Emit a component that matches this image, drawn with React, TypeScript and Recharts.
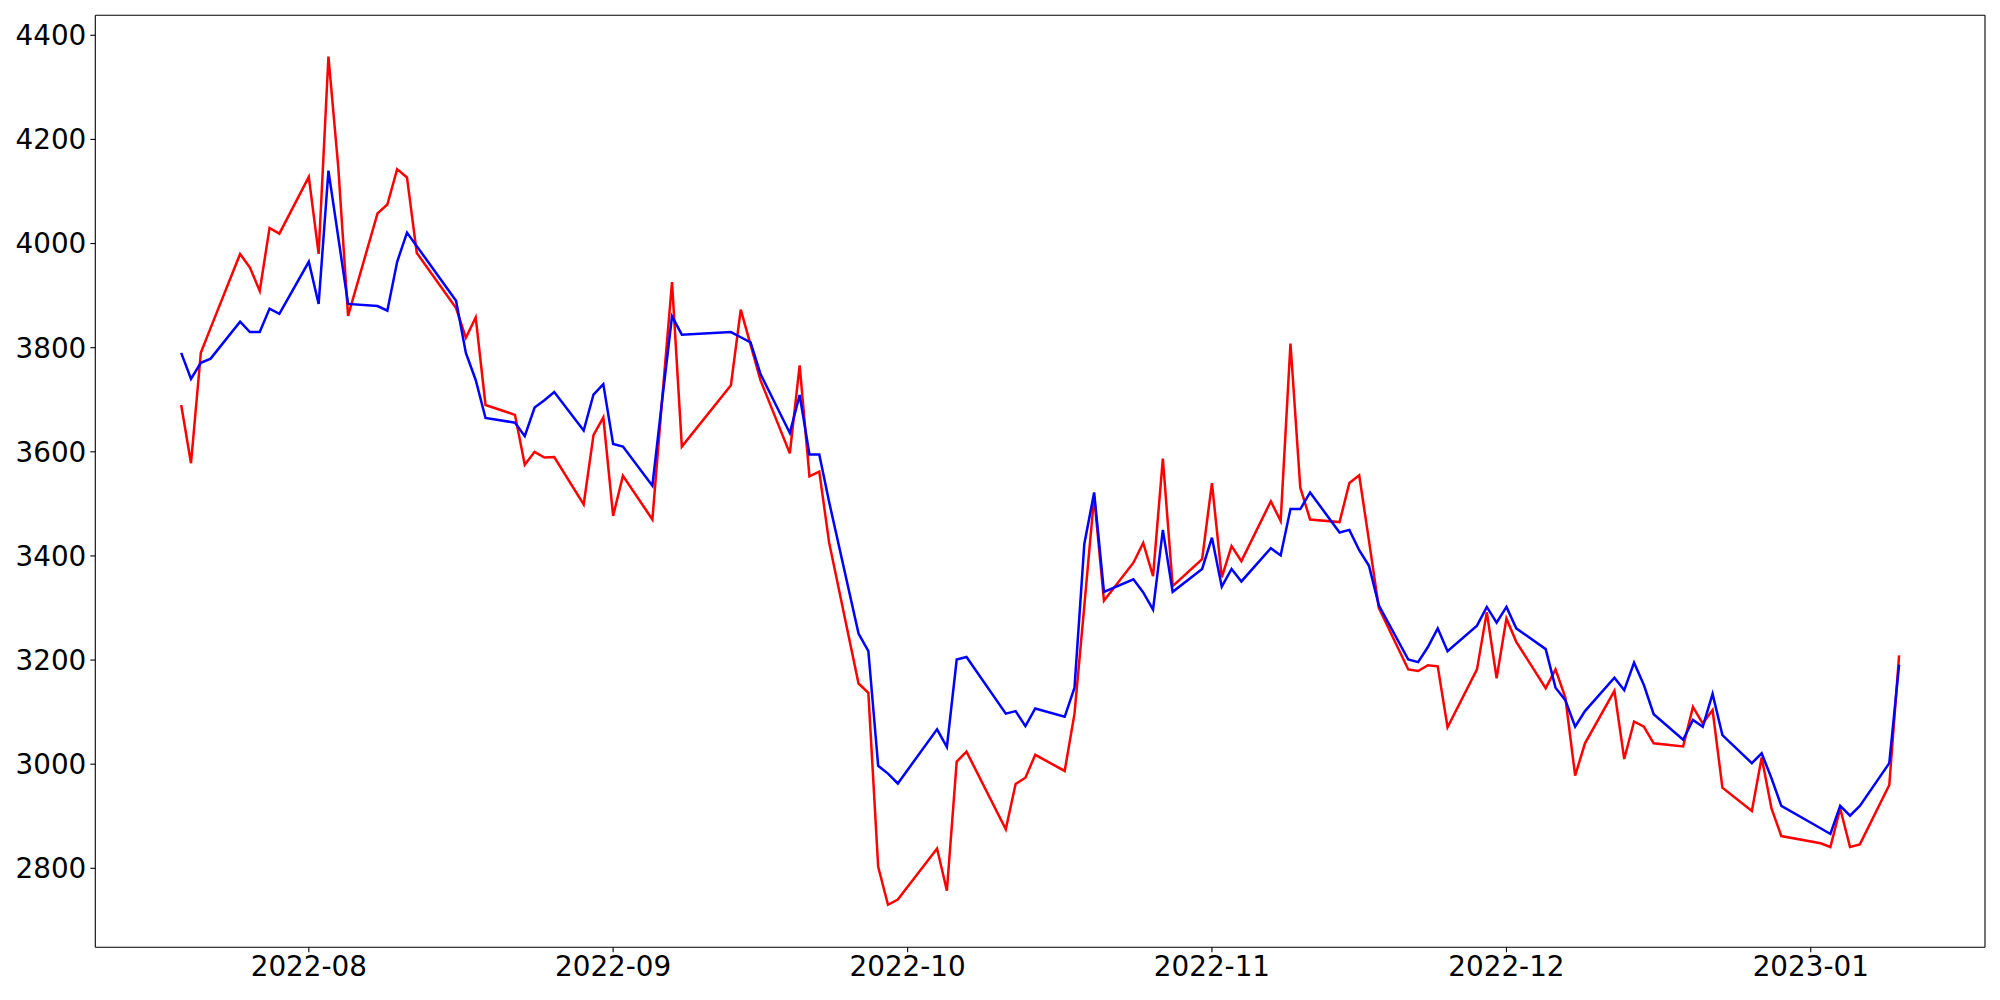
import React from "react";
import { LineChart, Line, XAxis, YAxis, ReferenceLine } from "recharts";

// trading days (Korean calendar)
const DATES = [
  "2022-07-19", "2022-07-20", "2022-07-21", "2022-07-22", "2022-07-25", "2022-07-26", "2022-07-27", "2022-07-28", "2022-07-29",
  "2022-08-01", "2022-08-02", "2022-08-03", "2022-08-04", "2022-08-05", "2022-08-08", "2022-08-09", "2022-08-10", "2022-08-11", "2022-08-12",
  "2022-08-16", "2022-08-17", "2022-08-18", "2022-08-19", "2022-08-22", "2022-08-23", "2022-08-24", "2022-08-25", "2022-08-26",
  "2022-08-29", "2022-08-30", "2022-08-31", "2022-09-01", "2022-09-02", "2022-09-05", "2022-09-06", "2022-09-07", "2022-09-08",
  "2022-09-13", "2022-09-14", "2022-09-15", "2022-09-16", "2022-09-19", "2022-09-20", "2022-09-21", "2022-09-22", "2022-09-23",
  "2022-09-26", "2022-09-27", "2022-09-28", "2022-09-29", "2022-09-30", "2022-10-04", "2022-10-05", "2022-10-06", "2022-10-07",
  "2022-10-11", "2022-10-12", "2022-10-13", "2022-10-14", "2022-10-17", "2022-10-18", "2022-10-19", "2022-10-20", "2022-10-21",
  "2022-10-24", "2022-10-25", "2022-10-26", "2022-10-27", "2022-10-28", "2022-10-31", "2022-11-01", "2022-11-02", "2022-11-03",
  "2022-11-04", "2022-11-07", "2022-11-08", "2022-11-09", "2022-11-10", "2022-11-11", "2022-11-14", "2022-11-15", "2022-11-16",
  "2022-11-17", "2022-11-18", "2022-11-21", "2022-11-22", "2022-11-23", "2022-11-24", "2022-11-25", "2022-11-28", "2022-11-29",
  "2022-11-30", "2022-12-01", "2022-12-02", "2022-12-05", "2022-12-06", "2022-12-07", "2022-12-08", "2022-12-09", "2022-12-12",
  "2022-12-13", "2022-12-14", "2022-12-15", "2022-12-16", "2022-12-19", "2022-12-20", "2022-12-21", "2022-12-22", "2022-12-23",
  "2022-12-26", "2022-12-27", "2022-12-28", "2022-12-29", "2023-01-02", "2023-01-03", "2023-01-04", "2023-01-05", "2023-01-06",
  "2023-01-09", "2023-01-10",
];

const RED = [
  3690, 3578, 3790, 3838, 3980, 3954, 3909, 4030, 4019,
  4128, 3980, 4359, 4147, 3861, 4058, 4075, 4143, 4127, 3982,
  3876, 3819, 3858, 3690, 3671, 3575, 3600, 3589, 3590,
  3499, 3632, 3666, 3477, 3554, 3470, 3702, 3926, 3610,
  3728, 3873, 3806, 3738, 3597, 3766, 3553, 3562, 3426,
  3155, 3137, 2803, 2730, 2740, 2838, 2757, 3005, 3024,
  2875, 2962, 2974, 3018, 2987, 3097, 3304, 3514, 3314,
  3387, 3425, 3361, 3587, 3342, 3394, 3540, 3359, 3419,
  3390, 3505, 3467, 3808, 3531, 3470, 3465, 3540, 3555,
  3429, 3300, 3182, 3179, 3190, 3188, 3071, 3182, 3292,
  3165, 3280, 3235, 3146, 3182, 3128, 2978, 3040, 3141,
  3010, 3082, 3072, 3040, 3034, 3110, 3078, 3104, 2955,
  2910, 3013, 2915, 2862, 2848, 2841, 2915, 2841, 2846,
  2960, 3209,
];

const BLUE = [
  3790, 3740, 3771, 3779, 3850, 3830, 3830, 3875, 3865,
  3965, 3884, 4140, 4012, 3884, 3880, 3871, 3965, 4021, 3995,
  3890, 3790, 3738, 3665, 3656, 3630, 3685, 3699, 3715,
  3641, 3710, 3730, 3615, 3610, 3535, 3700, 3860, 3825,
  3830, 3820, 3810, 3750, 3636, 3709, 3595, 3595, 3504,
  3251, 3217, 2997, 2982, 2963, 3067, 3033, 3201, 3206,
  3097, 3102, 3073, 3107, 3091, 3147, 3423, 3522, 3331,
  3355, 3330, 3297, 3450, 3331, 3375, 3435, 3341, 3375,
  3351, 3415, 3401, 3490, 3490, 3522, 3445, 3450, 3411,
  3381, 3305, 3201, 3196, 3225, 3261, 3217, 3266, 3302,
  3272, 3302, 3261, 3221, 3147, 3123, 3072, 3102, 3166,
  3142, 3195, 3152, 3096, 3047, 3085, 3072, 3135, 3056,
  3002, 3021, 2973, 2920, 2877, 2866, 2920, 2901, 2920,
  3002, 3191,
];

const X_TICKS = ["2022-08-01", "2022-09-01", "2022-10-01", "2022-11-01", "2022-12-01", "2023-01-01"];
const Y_TICKS = [2800, 3000, 3200, 3400, 3600, 3800, 4000, 4200, 4400];

const DAY = 86400000;
const toTs = (s: string) => {
  const [y, m, d] = s.split("-").map(Number);
  return Date.UTC(y, m - 1, d);
};

const data = DATES.map((d, i) => ({ t: toTs(d), red: RED[i], blue: BLUE[i] }));

// matplotlib-style 5% padding on both axes
const X_MIN = toTs(DATES[0]) - 8.75 * DAY;
const X_MAX = toTs(DATES[DATES.length - 1]) + 8.75 * DAY;
const Y_MIN = 2648.3;
const Y_MAX = 4438.4;

const FONT = "DejaVu Sans";
const tickStyle = { fill: "#000", fontSize: 27.8, fontFamily: FONT };
const axisStroke = { stroke: "#000", strokeWidth: 1.1 };

const fmtMonth = (v: number) => new Date(v).toISOString().slice(0, 7);

export default function App() {
  return (
    <div style={{ width: 1992, height: 992, background: "#fff" }}>
      <LineChart
        width={1992}
        height={992}
        data={data}
        margin={{ top: 7.3, right: 15, bottom: 0, left: 0 }}
      >
        <XAxis
          dataKey="t"
          type="number"
          domain={[X_MIN, X_MAX]}
          allowDataOverflow
          ticks={X_TICKS.map(toTs)}
          tickFormatter={fmtMonth}
          tick={tickStyle}
          tickSize={5}
          tickMargin={4}
          height={52.7}
          axisLine={axisStroke}
          tickLine={axisStroke}
        />
        <YAxis
          type="number"
          domain={[Y_MIN, Y_MAX]}
          allowDataOverflow
          ticks={Y_TICKS}
          tick={tickStyle}
          tickSize={5}
          tickMargin={4}
          width={87.3}
          axisLine={axisStroke}
          tickLine={axisStroke}
        />
        <ReferenceLine y={Y_MAX} stroke="#000" strokeWidth={1.1} />
        <ReferenceLine x={X_MAX} stroke="#000" strokeWidth={1.1} />
        <Line
          type="linear"
          dataKey="red"
          stroke="#ff0000"
          strokeWidth={2.5}
          dot={false}
          isAnimationActive={false}
        />
        <Line
          type="linear"
          dataKey="blue"
          stroke="#0000ff"
          strokeWidth={2.5}
          dot={false}
          isAnimationActive={false}
        />
      </LineChart>
    </div>
  );
}
